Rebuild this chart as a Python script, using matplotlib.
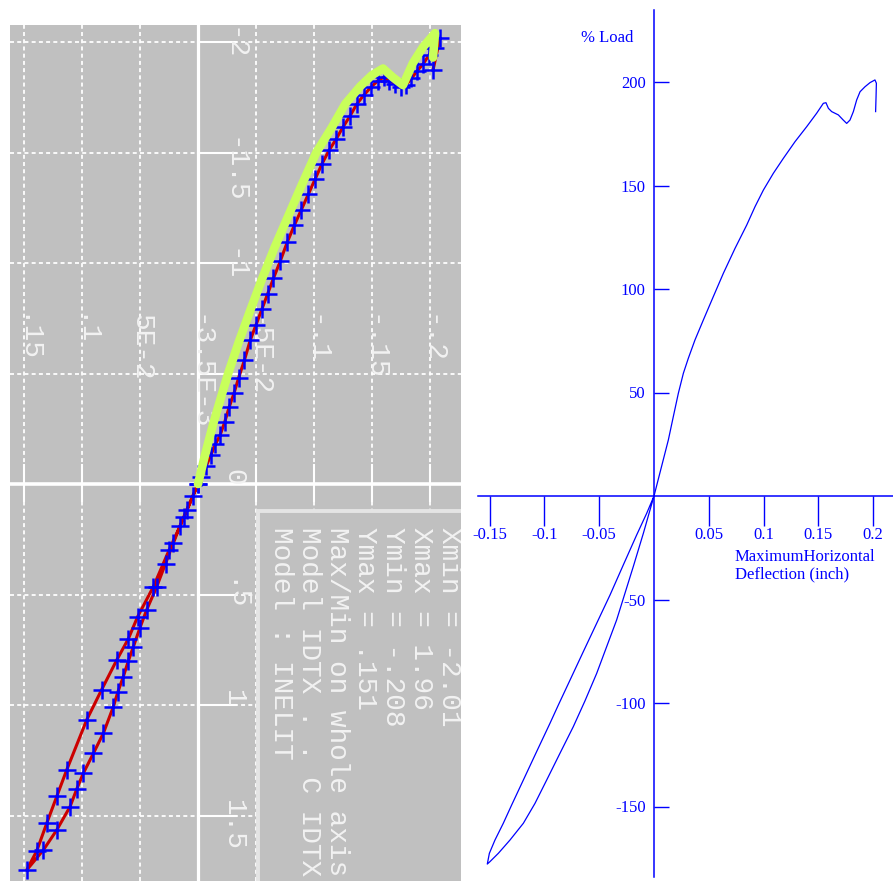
import matplotlib.pyplot as plt
from matplotlib.patches import Rectangle

W, H = 893, 881
plt.rcParams['font.family'] = ['Liberation Serif', 'DejaVu Serif']
plt.rcParams['axes.unicode_minus'] = False

# cyclic test: maximum horizontal deflection (inch) vs % load
# push to the negative side, release, then push to the positive side
test_defl = [0.0, -0.0045, -0.0098, -0.0155, -0.0213, -0.028, -0.0356, -0.0443, -0.050,
             -0.0557, -0.060, -0.0644, -0.069, -0.073, -0.0816, -0.0902, -0.0989, -0.1045,
             -0.1103, -0.1218, -0.1333, -0.1477,
             -0.139, -0.1304, -0.1215, -0.1132, -0.096, -0.083, -0.070, -0.060, -0.052,
             -0.0385, -0.025, -0.012, 0.0,
             0.003, 0.007, 0.011, 0.015, 0.019, 0.023, 0.027, 0.031, 0.035, 0.040,
             0.045, 0.050, 0.055, 0.060, 0.065, 0.071, 0.077, 0.083, 0.089, 0.095,
             0.101, 0.107, 0.113, 0.119, 0.125, 0.131, 0.137, 0.143, 0.149, 0.155,
             0.160, 0.165, 0.170, 0.175, 0.179, 0.184, 0.189, 0.194, 0.199, 0.204,
             0.2086, 0.2026]
test_load = [0, -5.5, -11.8, -19, -26.8, -36, -46.5, -57, -65,
             -73.6, -80, -87.2, -94, -100.8, -112.8, -121.9, -130.9, -138,
             -146, -156.6, -165.6, -174.7,
             -166, -153.5, -141, -129.4, -106.8, -93, -79.6, -70, -60,
             -46.5, -30, -15, 0,
             3, 8, 13, 18, 22, 28, 35, 41, 48, 56,
             65, 72, 79, 86, 93, 101, 109.5, 117, 124, 131,
             138, 145, 151, 156, 161.5, 166.5, 172, 176, 179.5, 182.5,
             184, 182.5, 181, 179.5, 180.5, 183.5, 187, 190, 194, 197.5,
             201.7, 187.3]

# fitted backbone curve
fit_defl = [0.0, 0.006, 0.013, 0.020, 0.026, 0.035, 0.045, 0.055, 0.066, 0.078, 0.090,
            0.102, 0.115, 0.127, 0.140, 0.150, 0.1595, 0.168, 0.1767, 0.1853, 0.194,
            0.2043, 0.2026]
fit_load = [0, 13, 27, 39.5, 50, 64, 78.5, 92.5, 107, 121.5, 136,
            150, 161, 172, 180, 185, 188, 184, 180.5, 190.5, 197.7,
            204, 193]

# hysteresis curve for the plain chart
curve_defl = [0.0, -0.0097, -0.0189, -0.0265, -0.0341, -0.0432, -0.0523, -0.0630, -0.0736,
              -0.0858, -0.0979, -0.1086, -0.1192, -0.1314, -0.1420, -0.1496, -0.1521,
              -0.1502, -0.1451, -0.1375, -0.1299, -0.1192, -0.1071, -0.0949, -0.0873,
              -0.0766, -0.0645, -0.0523, -0.0401, -0.0280, -0.0158, -0.0067, 0.0,
              0.0131, 0.0176, 0.0222, 0.0268, 0.0313, 0.0374, 0.0450, 0.0541, 0.0633,
              0.0739, 0.0846, 0.0922, 0.0998, 0.1089, 0.1180, 0.1287, 0.1393, 0.1484,
              0.1545, 0.1569, 0.1591, 0.1621, 0.1682, 0.1727, 0.1758, 0.1788, 0.1819,
              0.1849, 0.1880, 0.1925, 0.1971, 0.2016, 0.2029, 0.2026, 0.2022]
curve_load = [0, -18.0, -34.1, -47.0, -59.9, -72.8, -85.7, -99.0, -111.4,
              -124.3, -137.2, -148.5, -158.1, -166.2, -172.6, -176.6, -177.8,
              -172.6, -166.2, -158.1, -149.3, -137.2, -123.5, -109.8, -101.0,
              -88.9, -75.2, -61.5, -47.8, -33.3, -18.8, -8.4, 0,
              27.1, 38.3, 49.6, 59.3, 66.5, 75.4, 85.0, 96.3, 107.6,
              119.6, 130.9, 139.8, 147.8, 155.9, 163.1, 171.2, 178.4, 184.9,
              189.7, 190.0, 187.3, 185.7, 184.1, 181.6, 180.0, 181.6, 185.7,
              191.3, 195.3, 197.7, 199.7, 201.0, 199.4, 192.9, 185.7]

# calculator screen scales
grid_defl = [-0.15, -0.1, -0.05, 0.05, 0.1, 0.15, 0.2]
grid_load = [-150, -100, -50, 50, 100, 150, 200]
calc_x_pos = [200, 150, 100, 0, -50, -100, -150]
calc_x_labels = ["-2", "-1.5", "-1", "0", ".5", "1", "1.5"]
calc_y_pos = [-0.15, -0.1, -0.05, 0.0, 0.05, 0.1, 0.15, 0.2]
calc_y_labels = [".15", ".1", "5E-2", "-3.5E-3", "-5E-2", "-.1", "-.15", "-.2"]
info_lines = ["Xmin = -2.01", "Xmax = 1.96", "Ymin = -.208", "Ymax = .151",
              "Max/Min on whole axis", "Model IDTX . . C IDTX", "Model : INELIT"]

# plain chart ticks
tick_defl = [-0.15, -0.1, -0.05, 0.05, 0.1, 0.15, 0.2]
tick_defl_labels = ["-0.15", "-0.1", "-0.05", "0.05", "0.1", "0.15", "0.2"]
tick_load = [-150, -100, -50, 50, 100, 150, 200]

fig = plt.figure(figsize=(W / 100, H / 100), dpi=100)

# ---- left: rotated calculator screen ----
ax1 = fig.add_axes([10 / W, 0, 451 / W, 856 / H])
ax1.set_facecolor('#c0c0c0')
ax1.set_xlim(-188 / 1160, 263 / 1160)
ax1.set_ylim(-397 / 2.21, 459 / 2.21)
for s in ax1.spines.values():
    s.set_visible(False)
ax1.set_xticks([])
ax1.set_yticks([])

dash = (0, (2.2, 1.8))
for d in grid_defl:
    ax1.axvline(d, color='white', lw=1.3, ls=dash, zorder=1)
for l in grid_load:
    ax1.axhline(l, color='white', lw=1.3, ls=dash, zorder=1)
ax1.axvline(0, color='white', lw=2.3, zorder=2)
ax1.axhline(0, color='white', lw=2.6, zorder=2)
for l in grid_load:
    ax1.plot([0, 0.033], [l, l], color='white', lw=1.5, zorder=2)
for d in grid_defl:
    ax1.plot([d, d], [-7.5, 8.5], color='white', lw=1.5, zorder=2)

mono = dict(family='Liberation Mono', fontsize=20, color='#f2f2f2', rotation=-90)
for l, s in zip(calc_x_pos, calc_x_labels):
    ax1.text(0.019, l + 6.8, s, ha='left', va='top', zorder=3, **mono)
for d, s in zip(calc_y_pos, calc_y_labels):
    ax1.text(d + 0.001, 77, s, ha='center', va='top', zorder=3, **mono)

# info box
ax1.add_patch(Rectangle((60 / 1160, -200), 0.3, 188, facecolor='#c0c0c0',
                        edgecolor='#e4e4e4', lw=2.8, zorder=4))
for i, s in enumerate(info_lines):
    ax1.text((251 - 28 * i) / 1160, -19.5, s, ha='center', va='top', zorder=5,
             clip_on=True, **mono)

ax1.plot(test_defl, test_load, color='#cc0000', lw=2.2, zorder=6)
ax1.plot(test_defl, test_load, ls='none', marker='+', ms=13, mew=1.8,
         color='#0000ff', zorder=7)
ax1.plot(fit_defl, fit_load, color='#c8ff5a', lw=6.2, solid_capstyle='round',
         solid_joinstyle='round', zorder=8)

# ---- right: load-deflection chart ----
ax2 = fig.add_axes([478 / W, 4 / H, 415 / W, 867 / H])
ax2.set_xlim(-176 / 1096, 239 / 1096)
ax2.set_ylim(-381 / 2.07, 486 / 2.07)
ax2.patch.set_alpha(0)
for side in ['top', 'right']:
    ax2.spines[side].set_visible(False)
for side in ['left', 'bottom']:
    ax2.spines[side].set_position(('data', 0))
    ax2.spines[side].set_color('#0000ff')
    ax2.spines[side].set_linewidth(1.1)
ax2.set_xticks(tick_defl)
ax2.set_xticklabels(tick_defl_labels)
ax2.set_yticks(tick_load)
ax2.set_yticklabels([str(v) for v in tick_load])
ax2.tick_params(axis='x', direction='out', length=21.5, width=1, color='#0000ff',
                pad=0.5, labelsize=12, labelcolor='#0000ff')
ax2.tick_params(axis='y', direction='in', length=11, width=1, color='#0000ff',
                pad=6, labelsize=12, labelcolor='#0000ff')
ax2.plot(curve_defl, curve_load, color='#0000ff', lw=0.9, solid_joinstyle='round')

fig.text(607 / W, 1 - 38 / H, '% Load', ha='center', va='center', color='#0000ff',
         fontsize=12)
fig.text(735 / W, 1 - 549 / H, 'MaximumHorizontal\nDeflection (inch)', ha='left',
         va='top', color='#0000ff', fontsize=12, linespacing=1.1)

fig.savefig('out.png', dpi=100)
